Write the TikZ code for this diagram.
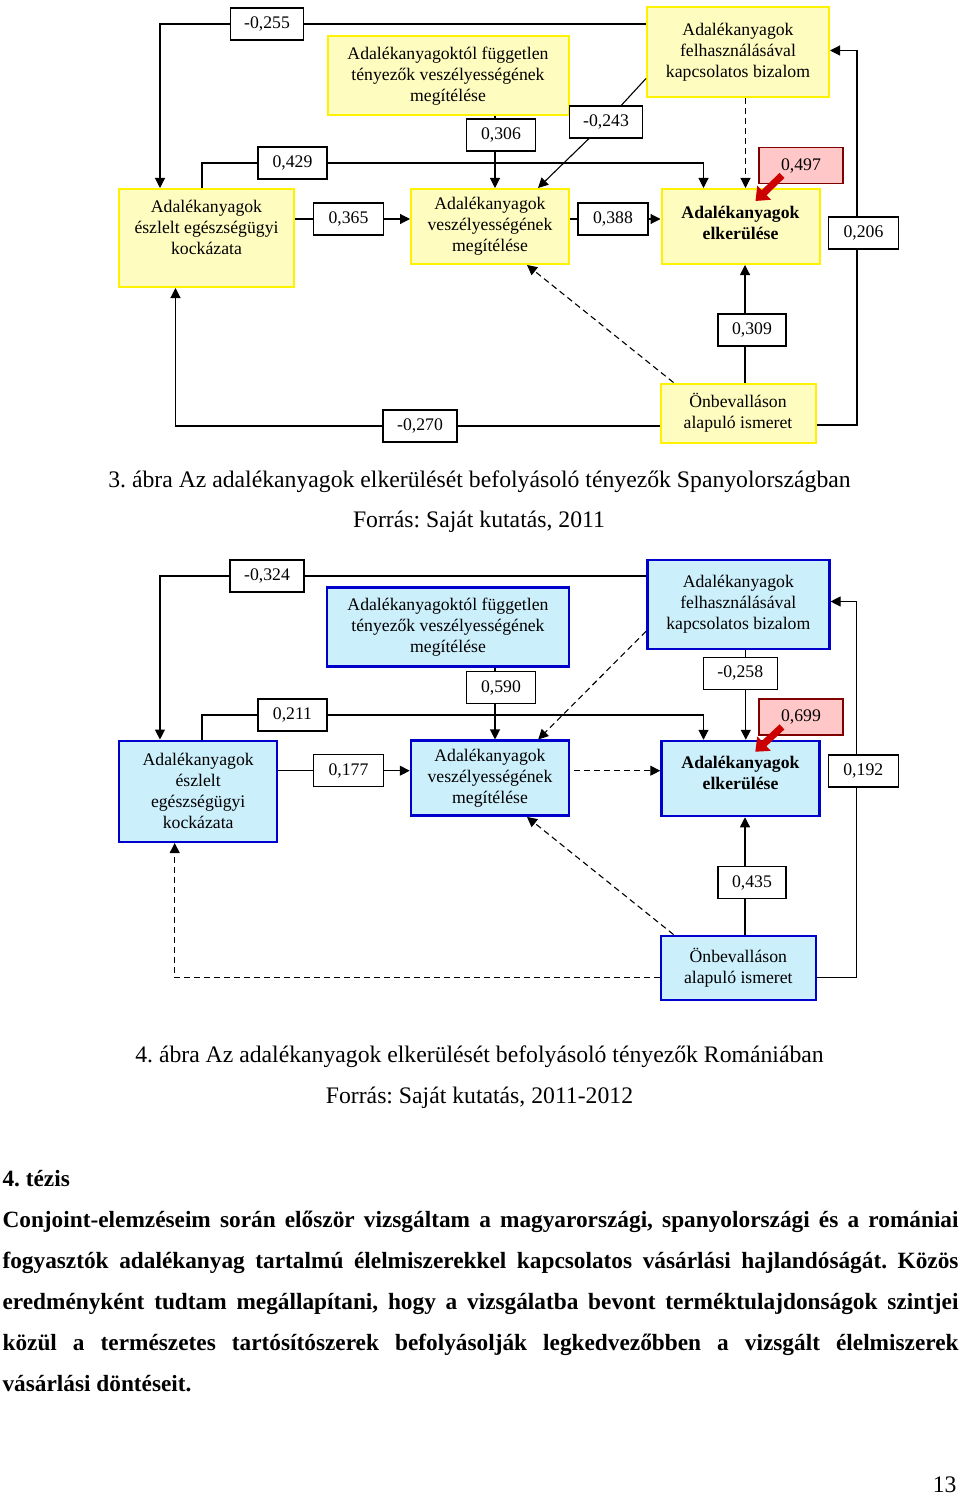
\documentclass[tikz,border=0pt]{standalone}
\usepackage{fontspec}
\setmainfont{Liberation Serif}
\usetikzlibrary{arrows.meta}
\frenchspacing

\newcommand{\diagfont}{\fontsize{17.7}{21}\selectfont}
\newcommand{\capfont}{\fontsize{23.7}{28}\selectfont}
\newcommand{\bodyfont}{\fontsize{23.3}{41}\selectfont\bfseries}

\tikzset{
    ybox/.style={draw=yellow, line width=2pt, fill=yellow!25, align=center, inner sep=0pt, font=\diagfont},
    cbox/.style={draw=blue!80!black, line width=2.5pt, fill=cyan!20, align=center, inner sep=0pt, font=\diagfont},
    val/.style={draw=black, line width=1.1pt, fill=white, minimum width=69pt, minimum height=32pt, inner sep=0pt, font=\diagfont},
    redval/.style={val, draw=red!50!black, line width=1.8pt, fill=red!22, minimum width=84pt, minimum height=36pt},
    arr/.style={-{Triangle[length=10pt,width=10pt]}},
    dsh/.style={arr, dash pattern=on 6pt off 4pt},
    redarr/.style={line width=7pt, red!80!black, -{Triangle[length=12pt,width=19pt]}},
}

\begin{document}
\begin{tikzpicture}[x=1pt,y=-1pt,line width=1.1pt]
    \useasboundingbox[fill=white] (0,0) rectangle (960,1498);

    % ---- 3. abra ----
    \node[ybox, minimum width=175pt, minimum height=98pt] (eszA) at (206.5,238) {Adalékanyagok\\észlelt egészségügyi\\kockázata\\\mbox{}};
    \node[ybox, minimum width=241pt, minimum height=79pt] (fuggA) at (448,76) {Adalékanyagoktól független\\tényezők veszélyességének\\megítélése};
    \node[ybox, minimum width=182pt, minimum height=90pt] (bizA) at (738,52.5) {Adalékanyagok\\felhasználásával\\kapcsolatos bizalom};
    \node[ybox, minimum width=158pt, minimum height=75pt] (veszA) at (490,226.5) {Adalékanyagok\\veszélyességének\\megítélése};
    \node[ybox, minimum width=158pt, minimum height=75pt] (elkA) at (740.5,226.5) {\textbf{Adalékanyagok}\\\textbf{elkerülése}\\[-13pt]\mbox{}};
    \node[ybox, minimum width=155pt, minimum height=59pt] (onbA) at (738,413) {Önbevalláson\\alapuló ismeret};

    \node[val, minimum width=73pt] (v255) at (267,24) {-0,255};
    \node[val] (v306) at (501,135) {0,306};
    \node[val, minimum width=73pt] (v243) at (606,122) {-0,243};
    \node[val] (v429) at (292.5,163) {0,429};
    \node[redval] (v497) at (801,165.5) {0,497};
    \node[val, minimum width=70pt] (v365) at (348.5,219) {0,365};
    \node[val, minimum width=70pt] (v388) at (613,219) {0,388};
    \node[val, minimum width=70pt] (v206) at (863.5,233) {0,206};
    \node[val, minimum width=68pt] (v309) at (752,330) {0,309};
    \node[val, minimum width=74pt] (v270) at (420,426) {-0,270};

    % bizalom -> eszlelt
    \draw (bizA.west |- v255) -- (v255.east);
    \draw[arr] (v255.west) -| ([xshift=42pt]eszA.north west);
    % eszlelt -> elkerules
    \draw ([xshift=84pt]eszA.north west) |- (v429.west);
    \draw[arr] (v429.east) -| ([xshift=-37pt]elkA.north);
    % fuggetlen -> veszelyesseg
    \draw ([xshift=-6pt]v306.north |- fuggA.south) -- ([xshift=-6pt]v306.north);
    \draw[arr] ([xshift=-6pt]v306.south) -- ([xshift=-6pt]v306.south |- veszA.north);
    % bizalom -> veszelyesseg
    \draw ([yshift=20pt]bizA.south west) -- (v243);
    \draw[arr] (v243) -- ([xshift=-32pt]veszA.north east);
    % bizalom -> elkerules
    \draw[dsh] ([xshift=5pt]elkA.north |- bizA.south) -- ([xshift=5pt]elkA.north);
    % eszlelt -> veszelyesseg -> elkerules
    \draw (eszA.east |- v365) -- (v365.west);
    \draw[arr] (v365.east) -- (veszA.west |- v365);
    \draw (veszA.east |- v388) -- (v388.west);
    \draw[arr] (v388.east) -- (elkA.west |- v388);
    % onbevallason -> bizalom
    \draw ([yshift=-12pt]onbA.east) -| ([xshift=-6.5pt]v206.south);
    \draw[arr] ([xshift=-6.5pt]v206.north) |- ([yshift=2pt]bizA.east);
    % onbevallason -> elkerules
    \draw ([xshift=-7pt]v309.south |- onbA.north) -- ([xshift=-7pt]v309.south);
    \draw[arr] ([xshift=-7pt]v309.north) -- ([xshift=-7pt]v309.north |- elkA.south);
    % onbevallason -> veszelyesseg
    \draw[dsh] ([xshift=14pt]onbA.north west) -- ([xshift=37pt]veszA.south);
    % onbevallason -> eszlelt
    \draw (onbA.west |- v270) -- (v270.east);
    \draw[arr] (v270.west) -| ([xshift=-31pt]eszA.south);
    % red arrow
    \draw[redarr] ([xshift=-19pt,yshift=9pt]v497.south) -- ([xshift=95pt,yshift=-13pt]elkA.north west);

    \node[font=\capfont, anchor=base] (capA) at (479.5,487) {3. ábra Az adalékanyagok elkerülését befolyásoló tényezők Spanyolországban};
    \node[font=\capfont, anchor=base] (srcA) at (479,527) {Forrás: Saját kutatás, 2011};

    % ---- 4. abra ----
    \node[cbox, minimum width=158pt, minimum height=101pt] (eszB) at (198.2,791.3) {Adalékanyagok\\észlelt\\egészségügyi\\kockázata};
    \node[cbox, minimum width=242pt, minimum height=79pt] (fuggB) at (448,627) {Adalékanyagoktól független\\tényezők veszélyességének\\megítélése};
    \node[cbox, minimum width=182pt, minimum height=89pt] (bizB) at (738.3,604.5) {Adalékanyagok\\felhasználásával\\kapcsolatos bizalom};
    \node[cbox, minimum width=158pt, minimum height=75pt] (veszB) at (490,778.2) {Adalékanyagok\\veszélyességének\\megítélése};
    \node[cbox, minimum width=158pt, minimum height=75pt] (elkB) at (740.5,778.5) {\textbf{Adalékanyagok}\\\textbf{elkerülése}\\[-10pt]\mbox{}};
    \node[cbox, minimum width=155pt, minimum height=64pt] (onbB) at (738.3,967.8) {Önbevalláson\\alapuló ismeret};

    \node[val, minimum width=74pt] (v324) at (267,576) {-0,324};
    \node[val] (v590) at (501,687.5) {0,590};
    \node[val, minimum width=74pt] (v258) at (740.3,673.3) {-0,258};
    \node[val] (v211) at (292.5,715) {0,211};
    \node[redval] (v699) at (801,717) {0,699};
    \node[val, minimum width=70pt] (v177) at (348.5,770.7) {0,177};
    \node[val, minimum width=70pt] (v192) at (863.3,771) {0,192};
    \node[val, minimum width=68pt] (v435) at (752,882.5) {0,435};

    % bizalom -> eszlelt
    \draw (bizB.west |- v324) -- (v324.east);
    \draw[arr] (v324.west) -| ([xshift=42pt]eszB.north west);
    % eszlelt -> elkerules
    \draw ([xshift=84pt]eszB.north west) |- (v211.west);
    \draw[arr] (v211.east) -| ([xshift=-37pt]elkB.north);
    % fuggetlen -> veszelyesseg
    \draw ([xshift=-6pt]v590.north |- fuggB.south) -- ([xshift=-6pt]v590.north);
    \draw[arr] ([xshift=-6pt]v590.south) -- ([xshift=-6pt]v590.south |- veszB.north);
    % bizalom -> veszelyesseg
    \draw[dsh] ([yshift=19pt]bizB.south west) -- ([xshift=-32pt]veszB.north east);
    % bizalom -> elkerules
    \draw ([xshift=5.5pt]v258.north |- bizB.south) -- ([xshift=5.5pt]v258.north);
    \draw[arr] ([xshift=5.5pt]v258.south) -- ([xshift=5.5pt]v258.south |- elkB.north);
    % eszlelt -> veszelyesseg -> elkerules
    \draw (eszB.east |- v177) -- (v177.west);
    \draw[arr] (v177.east) -- (veszB.west |- v177);
    \draw[dsh] ([xshift=4pt]veszB.east |- v177) -- (elkB.west |- v177);
    % onbevallason -> bizalom
    \draw ([yshift=-10pt]onbB.east) -| ([xshift=-6.6pt]v192.south);
    \draw[arr] ([xshift=-6.6pt]v192.north) |- ([yshift=3pt]bizB.east);
    % onbevallason -> elkerules
    \draw ([xshift=-7pt]v435.south |- onbB.north) -- ([xshift=-7pt]v435.south);
    \draw[arr] ([xshift=-7pt]v435.north) -- ([xshift=-7pt]v435.north |- elkB.south);
    % onbevallason -> veszelyesseg
    \draw[dsh] ([xshift=14pt]onbB.north west) -- ([xshift=37pt]veszB.south);
    % onbevallason -> eszlelt
    \draw[dsh] ([yshift=-10pt]onbB.west) -| ([xshift=-23.5pt]eszB.south);
    % red arrow
    \draw[redarr] ([xshift=-19pt,yshift=9pt]v699.south) -- ([xshift=95pt,yshift=-12pt]elkB.north west);

    \node[font=\capfont, anchor=base] (capB) at (479.5,1062) {4. ábra Az adalékanyagok elkerülését befolyásoló tényezők Romániában};
    \node[font=\capfont, anchor=base] (srcB) at (479.5,1103) {Forrás: Saját kutatás, 2011-2012};

    % ---- tezis ----
    \node[font=\bodyfont, anchor=base west, inner sep=0pt] (tezis) at (2,1186) {4. tézis};
    \node[font=\bodyfont, anchor=base west, inner sep=0pt] (tline1) at (2,1227) {\makebox[956pt][s]{Conjoint-elemzéseim során először vizsgáltam a magyarországi, spanyolországi és a romániai}};
    \node[font=\bodyfont, anchor=base west, inner sep=0pt] (tline2) at (2,1268) {\makebox[956pt][s]{fogyasztók adalékanyag tartalmú élelmiszerekkel kapcsolatos vásárlási hajlandóságát. Közös}};
    \node[font=\bodyfont, anchor=base west, inner sep=0pt] (tline3) at (2,1309) {\makebox[956pt][s]{eredményként tudtam megállapítani, hogy a vizsgálatba bevont terméktulajdonságok szintjei}};
    \node[font=\bodyfont, anchor=base west, inner sep=0pt] (tline4) at (2,1350) {\makebox[956pt][s]{közül a természetes tartósítószerek befolyásolják legkedvezőbben a vizsgált élelmiszerek}};
    \node[font=\bodyfont, anchor=base west, inner sep=0pt] (tline5) at (2,1391) {vásárlási döntéseit.};

    \node[font=\capfont, anchor=base east, inner sep=0pt] (pagenum) at (957,1492) {13};
\end{tikzpicture}
\end{document}
